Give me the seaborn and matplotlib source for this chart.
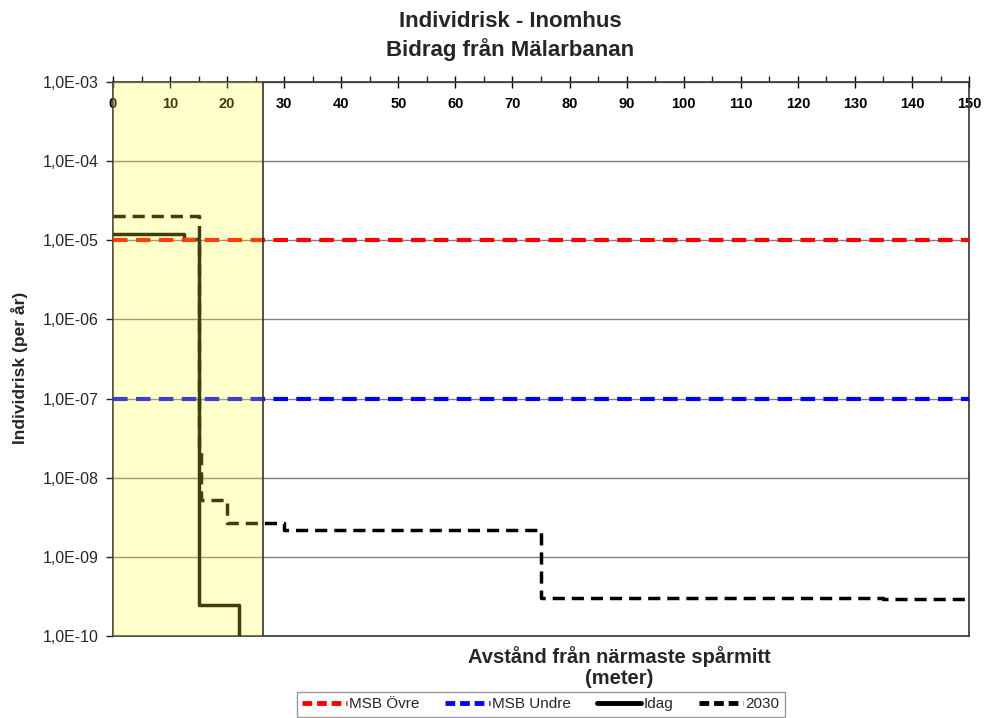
import matplotlib
matplotlib.use("Agg")
import matplotlib.pyplot as plt
import seaborn as sns
import pandas as pd
import numpy as np
from matplotlib.ticker import FixedLocator, FuncFormatter, MultipleLocator
from matplotlib.lines import Line2D

# ---- data ----
idag_x = [0, 12.5, 15, 22, 150]
idag_y = [1.2e-5, 1.05e-5, 2.45e-10, 1e-11, 1e-11]
y2030_x = [0, 15, 15.5, 20, 30, 75, 135, 150]
y2030_y = [2.0e-5, 2.3e-8, 5.3e-9, 2.7e-9, 2.2e-9, 3.0e-10, 2.9e-10, 2.9e-10]
msb_ovre = 1e-5
msb_undre = 1e-7
zone_end = 26.3
x_ticks = list(range(0, 151, 10))
y_ticks = [1e-10, 1e-9, 1e-8, 1e-7, 1e-6, 1e-5, 1e-4, 1e-3]
title = "Individrisk - Inomhus\nBidrag från Mälarbanan"
ylabel = "Individrisk (per år)"
xlabel = "Avstånd från närmaste spårmitt\n(meter)"
legend_labels = ["MSB Övre", "MSB Undre", "Idag", "2030"]

sns.set_style("white")
plt.rcParams['font.family'] = ['Liberation Sans', 'DejaVu Sans']

df = pd.concat([
    pd.DataFrame({"x": idag_x, "y": idag_y, "serie": "Idag"}),
    pd.DataFrame({"x": y2030_x, "y": y2030_y, "serie": "2030"}),
])

fig = plt.figure(figsize=(9.85, 7.18), dpi=100)
ax = fig.add_axes([0.1147, 0.1142, 0.8691, 0.7716])

sns.lineplot(data=df[df.serie == "Idag"], x="x", y="y", ax=ax, color="black",
             linewidth=2.5, drawstyle="steps-post", estimator=None, sort=False,
             label="_nolegend_", zorder=3)
sns.lineplot(data=df[df.serie == "2030"], x="x", y="y", ax=ax, color="black",
             linewidth=2.5, drawstyle="steps-post", estimator=None, sort=False,
             label="_nolegend_", zorder=3)
ax.lines[-1].set_dashes((3.5, 2))

ax.axhline(msb_ovre, color="#ff0000", linewidth=3, dashes=(3.5, 2), zorder=4)
ax.axhline(msb_undre, color="#0000ff", linewidth=3, dashes=(3.5, 2), zorder=4)

ax.set_yscale("log")
ax.set_xlim(0, 150)
ax.set_ylim(1e-10, 1e-3)

ax.yaxis.set_major_locator(FixedLocator(y_ticks))
ax.yaxis.set_minor_locator(FixedLocator([]))
ax.yaxis.set_major_formatter(FuncFormatter(
    lambda v, p: ("%.1E" % v).replace(".", ",")))
ax.grid(True, axis="y", color="#808080", linewidth=1)
ax.set_axisbelow(True)

ax.xaxis.tick_top()
ax.xaxis.set_major_locator(FixedLocator(x_ticks))
ax.xaxis.set_minor_locator(MultipleLocator(5))
ax.tick_params(axis="x", which="major", direction="inout", length=8, width=1,
               pad=-25, labelsize=10.5, colors="black")
ax.tick_params(axis="x", which="minor", direction="out", length=4, width=1, top=True)
for lab in ax.get_xticklabels():
    lab.set_fontweight("bold")
ax.tick_params(axis="y", which="major", direction="out", length=5, width=1,
               left=True, labelsize=11.5, pad=5)

for s in ax.spines.values():
    s.set_color("#333333")
    s.set_linewidth(1.2)
    s.set_visible(True)

# yellow zone drawn over everything
ax.axvspan(0, zone_end, facecolor=(1, 1, 0.2, 0.25), edgecolor="none", zorder=10)
ax.axvline(zone_end, color="#333333", linewidth=1.2, zorder=11)

ax.set_xlabel("")
ax.set_ylabel("")
fig.text(0.0193, 0.487, ylabel, rotation=90, ha="center", va="center",
         fontsize=12.5, fontweight="bold")
fig.suptitle(title, x=0.518, y=0.984, fontsize=16, fontweight="bold", va="top",
             linespacing=1.3)
fig.text(0.629, 0.071, xlabel, ha="center", va="center", fontsize=14.5,
         fontweight="bold", linespacing=1.15)

handles = [
    Line2D([], [], color="#ff0000", linewidth=3.5, dashes=(2, 1)),
    Line2D([], [], color="#0000ff", linewidth=3.5, dashes=(2, 1)),
    Line2D([], [], color="black", linewidth=3.5),
    Line2D([], [], color="black", linewidth=3.5, dashes=(2, 1)),
]
leg = fig.legend(handles, legend_labels, loc="upper left",
                 bbox_to_anchor=(0.3015, 0.0362),
                 ncol=4, frameon=True, fancybox=False, edgecolor="#808080",
                 fontsize=11, handlelength=2.9, handletextpad=0.15,
                 columnspacing=1.7, borderaxespad=0, borderpad=0.35)
leg.get_frame().set_linewidth(1)

fig.savefig("out.png", dpi=100)
